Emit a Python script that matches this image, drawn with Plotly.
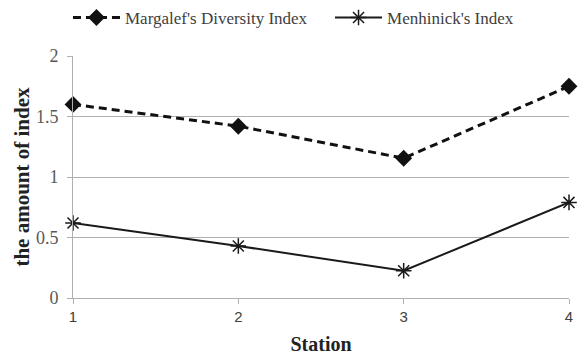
import plotly.graph_objects as go

stations = [1, 2, 3, 4]
margalef = [1.60, 1.42, 1.155, 1.75]
menhinick = [0.62, 0.43, 0.225, 0.79]
y_ticks = [0, 0.5, 1, 1.5, 2]
y_tick_labels = ["0", "0.5", "1", "1.5", "2"]

fig = go.Figure()
fig.add_trace(go.Scatter(
    x=stations, y=margalef, name="Margalef's Diversity Index",
    mode="lines+markers",
    line=dict(color="#111111", width=3, dash="8px,5px"),
    marker=dict(symbol="diamond", size=13, color="#111111"),
    cliponaxis=False, legend="legend",
))
fig.add_trace(go.Scatter(
    x=stations, y=menhinick, name="Menhinick's Index",
    mode="lines+markers",
    line=dict(color="#1a1a1a", width=2),
    marker=dict(symbol="asterisk-open", size=13, color="#1a1a1a",
                line=dict(color="#1a1a1a", width=1.5)),
    cliponaxis=False, legend="legend2",
))

legend_common = dict(
    orientation="h", xref="container", yref="container",
    y=1.0, xanchor="left", yanchor="top",
    font=dict(family="Liberation Serif", size=17, color="#404040"),
    itemwidth=47,
    bgcolor="rgba(0,0,0,0)",
)

fig.update_layout(
    width=579, height=355,
    margin=dict(l=73, r=10, t=56, b=57, autoexpand=False),
    paper_bgcolor="white", plot_bgcolor="white",
    showlegend=True,
    legend=dict(x=0.1174, **legend_common),
    legend2=dict(x=0.570, **legend_common),
    xaxis=dict(
        range=[1, 4], tickvals=stations, ticktext=[str(s) for s in stations],
        showgrid=False, zeroline=False,
        showline=True, linecolor="#b0b0b0", linewidth=1,
        ticks="outside", ticklen=5, tickcolor="#b0b0b0",
        tickfont=dict(family="Liberation Sans", size=15, color="#404040"),
        title=dict(text="<b>Station</b>", standoff=12,
                   font=dict(family="Liberation Serif", size=20, color="#222222")),
    ),
    yaxis=dict(
        range=[0, 2], tickvals=y_ticks, ticktext=y_tick_labels,
        showgrid=True, gridcolor="#b0b0b0", gridwidth=1,
        zeroline=False,
        showline=True, linecolor="#b0b0b0", linewidth=1,
        ticks="outside", ticklen=5, tickcolor="#b0b0b0",
        ticklabelstandoff=5,
        tickfont=dict(family="Liberation Serif", size=18, color="#595959"),
        title=dict(text="<b>the amount of index</b>", standoff=0,
                   font=dict(family="Liberation Serif", size=21, color="#222222")),
    ),
)

fig.write_html(
    "out.html",
    config={"displayModeBar": False},
    post_script="document.body.style.margin='0';document.body.style.overflow='hidden';",
)
